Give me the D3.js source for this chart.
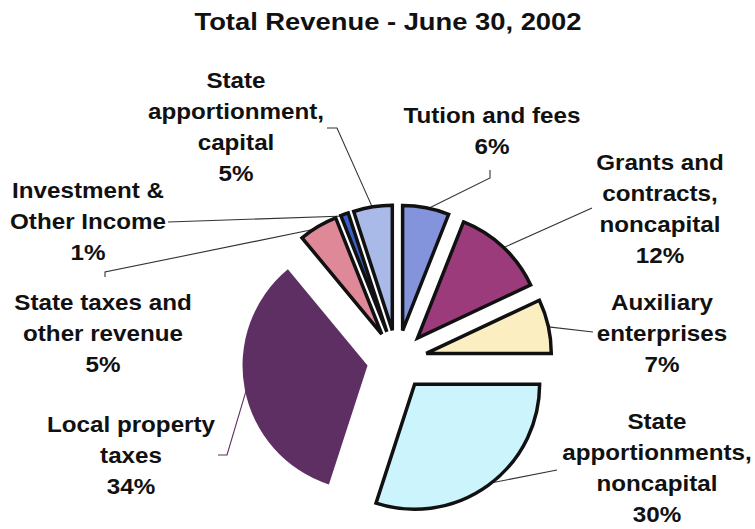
<!DOCTYPE html>
<html>
<head>
<meta charset="utf-8">
<script src="https://cdn.jsdelivr.net/npm/d3@7"></script>
<style>
  body { margin: 0; background: #fff; }
  text { font-family: "Liberation Sans", Arial, sans-serif; font-weight: bold; fill: #111; }
</style>
</head>
<body>
<div id="chart"></div>
<script>
// data
var categories = ["Tution and fees", "Grants and contracts, noncapital", "Auxiliary enterprises",
  "State apportionments, noncapital", "Local property taxes", "State taxes and other revenue",
  "Investment & Other Income", "State apportionment, capital"];
var values = [6, 12, 7, 30, 34, 5, 1, 5];
var labelLines = [
  ["Tution and fees", "6%"],
  ["Grants and", "contracts,", "noncapital", "12%"],
  ["Auxiliary", "enterprises", "7%"],
  ["State", "apportionments,", "noncapital", "30%"],
  ["Local property", "taxes", "34%"],
  ["State taxes and", "other revenue", "5%"],
  ["Investment &", "Other Income", "1%"],
  ["State", "apportionment,", "capital", "5%"]
];
var colors = ["#8494dc", "#9b3b7c", "#fbefc2", "#ccf4fd", "#5e2f63", "#df8898", "#3b62c9", "#a9b9e8"];

// layout of labels: centre x, first baseline, leader start points
var labelLayout = [
  { x: 492, y: 123, lead: [[490, 170], [490, 178]] },
  { x: 660, y: 170, lead: [[592, 208]] },
  { x: 662, y: 310, lead: [[593, 332]] },
  { x: 657, y: 429, lead: [[557, 470]] },
  { x: 131, y: 432, lead: [[218, 455], [227, 455]] },
  { x: 103, y: 310, lead: [[105, 277], [105, 272]] },
  { x: 88, y: 198, lead: [[168, 222]] },
  { x: 236, y: 88, lead: [[327, 128], [337, 128]] }
];

var width = 755, height = 529;
var cx = 397, cy = 360, radius = 125, explode = 30, lineH = 31;

var svg = d3.select('#chart')
  .append('svg')
  .attr('width', width)
  .attr('height', height);

// Title
svg.append('text')
  .attr('transform', 'translate(388,30) scale(1.14,1)')
  .attr('text-anchor', 'middle')
  .style('font-size', '24px')
  .text('Total Revenue - June 30, 2002');

var data = categories.map(function(c, i) {
  return { name: c, value: values[i], color: colors[i], lines: labelLines[i], layout: labelLayout[i] };
});

var pie = d3.pie()
  .sort(null)
  .value(function(d) { return d.value; });

var arc = d3.arc()
  .innerRadius(0)
  .outerRadius(radius);

var slices = pie(data);

function mid(d) { return (d.startAngle + d.endAngle) / 2; }

var g = svg.append('g')
  .attr('transform', 'translate(' + cx + ',' + cy + ')');

// leader lines (under the slices)
g.selectAll('.leader')
  .data(slices)
  .enter()
  .append('polyline')
  .attr('class', 'leader')
  .attr('fill', 'none')
  .attr('stroke', function(d) { return d.data.name == "Local property taxes" ? '#5e2f63' : '#333'; })
  .attr('stroke-width', 1.1)
  .attr('points', function(d) {
    var a = mid(d);
    var r = radius + explode - 2;
    var pts = d.data.layout.lead.map(function(p) { return [p[0] - cx, p[1] - cy]; });
    pts.push([Math.sin(a) * r, -Math.cos(a) * r]);
    return pts.map(function(p) { return p.join(','); }).join(' ');
  });

g.selectAll('.slice')
  .data(slices)
  .enter()
  .append('path')
  .attr('class', 'slice')
  .attr('transform', function(d) {
    var a = mid(d);
    return 'translate(' + (Math.sin(a) * explode) + ',' + (-Math.cos(a) * explode) + ')';
  })
  .attr('d', arc)
  .attr('fill', function(d) { return d.data.color; })
  .attr('stroke', function(d) { return d.data.name == "Local property taxes" ? 'none' : '#111'; })
  .attr('stroke-width', 3.5)
  .attr('stroke-linejoin', 'miter');

// labels
var labels = svg.selectAll('.label')
  .data(data)
  .enter()
  .append('text')
  .attr('class', 'label')
  .attr('text-anchor', 'middle')
  .style('font-size', '22px')
  .attr('transform', function(d) { return 'translate(' + d.layout.x + ',' + d.layout.y + ') scale(1.1,1)'; });

labels.selectAll('tspan')
  .data(function(d) { return d.lines; })
  .enter()
  .append('tspan')
  .attr('x', 0)
  .attr('y', function(d, i) { return i * lineH; })
  .text(function(d) { return d; });
</script>
</body>
</html>
